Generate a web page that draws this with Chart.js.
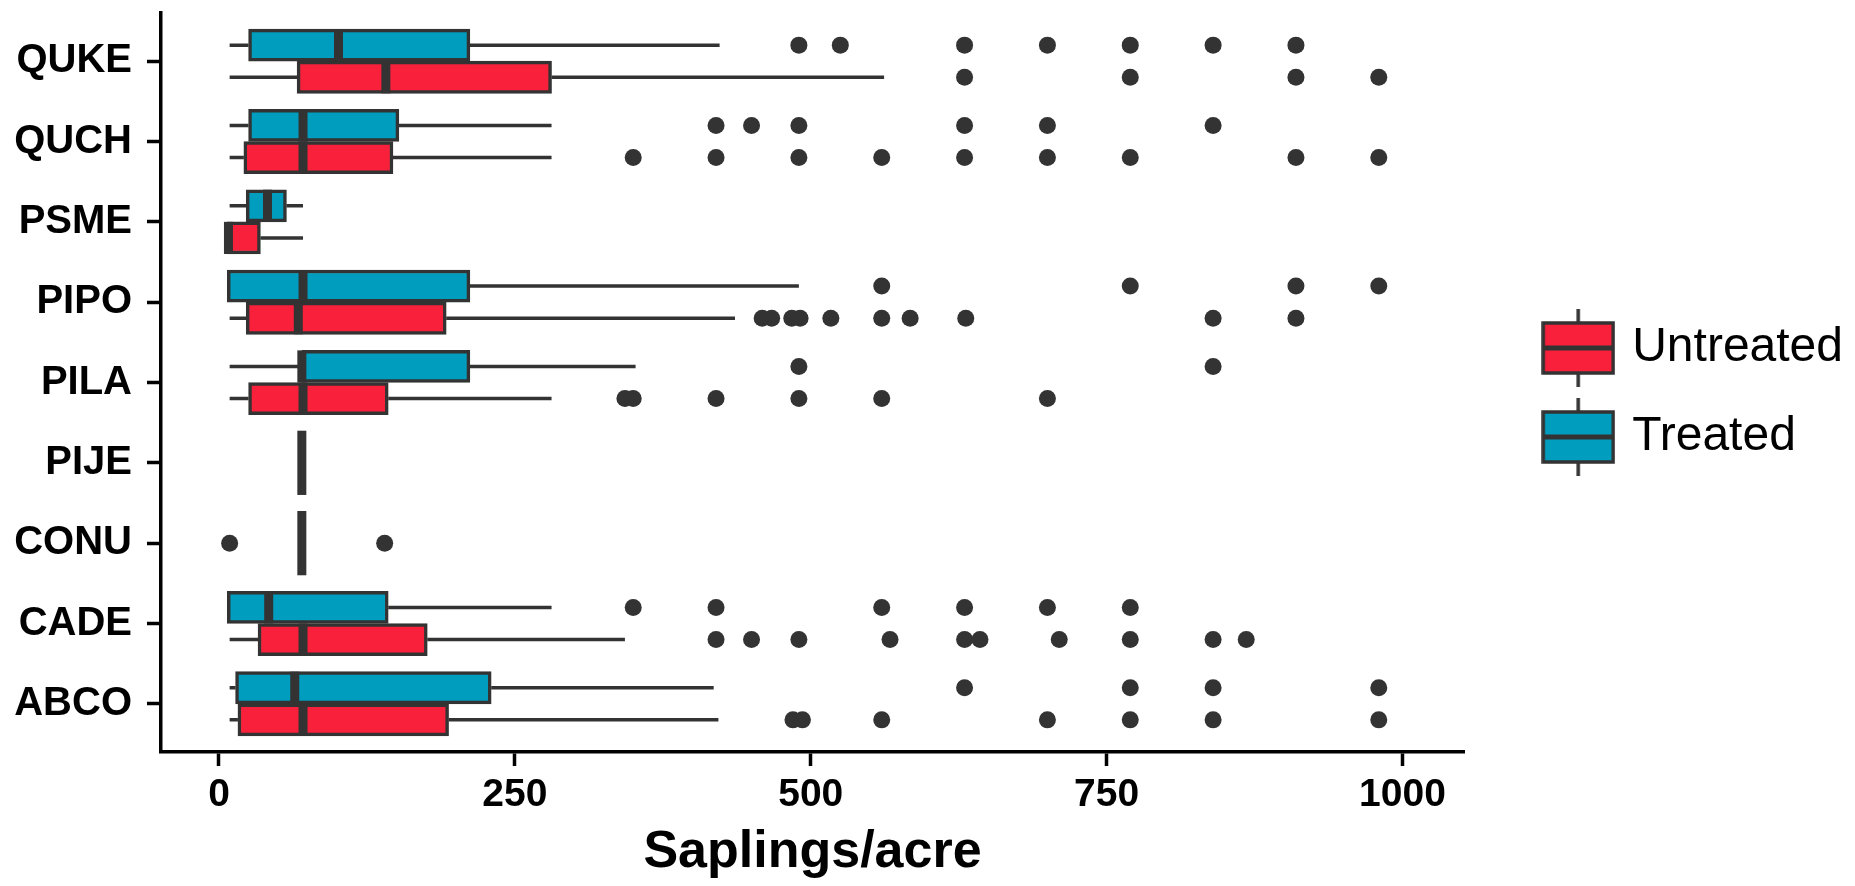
<!DOCTYPE html>
<html>
<head>
<meta charset="utf-8">
<style>
  html, body { margin: 0; padding: 0; background: #ffffff; }
  #wrap { position: relative; width: 1855px; height: 886px; }
  canvas { display: block; }
</style>
<script src="https://cdn.jsdelivr.net/npm/chart.js@4.4.1/dist/chart.umd.min.js"></script>
</head>
<body>
<div id="wrap"><canvas id="chart" width="1855" height="886"></canvas></div>
<script>
// ---------------- DATA ----------------
const categories = ['QUKE', 'QUCH', 'PSME', 'PIPO', 'PILA', 'PIJE', 'CONU', 'CADE', 'ABCO'];
const xTicks = [0, 250, 500, 750, 1000];
const seriesNames = ['Untreated', 'Treated'];

// Treated (null = species not present in this group)
const treatedLow     = [9,   9,   9,  7,   9,   null, null, 7,   9];
const treatedQ1      = [25,  25,  23, 7,   70,  null, null, 7,   14];
const treatedMedian  = [101, 71,  41, 71,  70,  null, null, 42,  64];
const treatedQ3      = [212, 152, 57, 212, 212, null, null, 143, 230];
const treatedHigh    = [423, 281, 71, 490, 352, null, null, 281, 418];
const treatedOutliers = [
  [490, 525, 630, 700, 770, 840, 910],
  [420, 450, 490, 630, 700, 840],
  [],
  [560, 770, 910, 980],
  [490, 840],
  [],
  [],
  [350, 420, 560, 630, 700, 770],
  [630, 770, 840, 980]
];

// Untreated
const untreatedLow     = [9,   9,   7,  9,   9,   70, 70, 9,   9];
const untreatedQ1      = [66,  21,  7,  23,  25,  70, 70, 33,  16];
const untreatedMedian  = [141, 71,  8,  67,  71,  70, 70, 71,  71];
const untreatedQ3      = [281, 147, 35, 192, 143, 70, 70, 176, 194];
const untreatedHigh    = [562, 281, 71, 436, 281, 70, 70, 343, 422];
const untreatedOutliers = [
  [630, 770, 910, 980],
  [350, 420, 490, 560, 630, 700, 770, 910, 980],
  [],
  [459, 467, 484, 491, 517, 560, 584, 631, 840, 910],
  [343, 350, 420, 490, 560, 700],
  [],
  [9, 140],
  [420, 450, 490, 567, 630, 643, 710, 770, 840, 868],
  [485, 493, 560, 700, 770, 840, 980]
];

// ---------------- STYLE ----------------
const FONT = "'Liberation Sans', Arial, Helvetica, sans-serif";
const RED = '#F8203B';
const BLUE = '#009DBE';
const LINE = '#333333';
const LEGEND_BOX_WIDTH = 389;   // space reserved on the right for the legend
const LEGEND_SHIFT_Y = 10;

// ---------------- BUILD DATASETS ----------------
const groupOffset = 0.2;
const treatedBoxes = [], untreatedBoxes = [], singleBoxes = [], outlierPoints = [];
categories.forEach((c, i) => {
  const hasT = treatedQ1[i] !== null;
  const hasU = untreatedQ1[i] !== null;
  const both = hasT && hasU;
  if (hasT) {
    const pos = both ? i - groupOffset : i;
    const b = { x: [treatedQ1[i], treatedQ3[i]], y: pos, lo: treatedLow[i], med: treatedMedian[i], hi: treatedHigh[i], color: BLUE };
    (both ? treatedBoxes : singleBoxes).push(b);
    treatedOutliers[i].forEach(v => outlierPoints.push({ x: v, y: pos }));
  }
  if (hasU) {
    const pos = both ? i + groupOffset : i;
    const b = { x: [untreatedQ1[i], untreatedQ3[i]], y: pos, lo: untreatedLow[i], med: untreatedMedian[i], hi: untreatedHigh[i], color: RED };
    (both ? untreatedBoxes : singleBoxes).push(b);
    untreatedOutliers[i].forEach(v => outlierPoints.push({ x: v, y: pos }));
  }
});

// legend glyphs (boxplot keys)
function makeGlyph(fill) {
  const cv = document.createElement('canvas');
  cv.width = 74; cv.height = 78;
  const g = cv.getContext('2d');
  g.strokeStyle = LINE;
  g.lineWidth = 3.5;
  g.beginPath(); g.moveTo(37, 0); g.lineTo(37, 14); g.moveTo(37, 64); g.lineTo(37, 78); g.stroke();
  g.fillStyle = fill;
  g.fillRect(2, 14, 70, 50);
  g.strokeRect(2, 14, 70, 50);
  g.lineWidth = 5;
  g.beginPath(); g.moveTo(2, 39); g.lineTo(72, 39); g.stroke();
  return cv;
}
const glyphs = { Untreated: makeGlyph(RED), Treated: makeGlyph(BLUE) };

// ---------------- PLUGIN: whiskers + medians + legend placement ----------------
function drawBoxParts(chart, part) {
  const ctx = chart.ctx;
  const xs = chart.scales.x;
  chart.data.datasets.forEach((ds, di) => {
    if (ds.type === 'scatter') return;
    const meta = chart.getDatasetMeta(di);
    meta.data.forEach((el, j) => {
      const r = ds.data[j];
      const p = el.getProps(['x', 'base', 'y', 'height'], true);
      const left = Math.min(p.x, p.base), right = Math.max(p.x, p.base);
      ctx.save();
      ctx.strokeStyle = LINE;
      ctx.lineCap = 'butt';
      if (part === 'whisker') {
        ctx.lineWidth = 3.5;
        ctx.beginPath();
        ctx.moveTo(xs.getPixelForValue(r.lo), p.y); ctx.lineTo(left, p.y);
        ctx.moveTo(right, p.y); ctx.lineTo(xs.getPixelForValue(r.hi), p.y);
        ctx.stroke();
      } else {
        const mx = xs.getPixelForValue(r.med);
        ctx.lineWidth = 9;
        ctx.beginPath();
        ctx.moveTo(mx, p.y - p.height / 2); ctx.lineTo(mx, p.y + p.height / 2);
        ctx.stroke();
      }
      ctx.restore();
    });
  });
}
function patchLegend(chart) {
  const lg = chart.legend;
  if (!lg || lg.__patched) return;
  const fit = lg.fit;
  lg.fit = function () {
    fit.call(this);
    this._naturalWidth = this.width;
    this.width = Math.max(this.width, LEGEND_BOX_WIDTH);
  };
  lg.__patched = true;
}
const boxplotPlugin = {
  id: 'boxplotParts',
  afterInit(chart) { patchLegend(chart); },
  beforeLayout(chart) { patchLegend(chart); },
  afterLayout(chart) {
    const lg = chart.legend;
    if (lg && lg._naturalWidth) {
      lg.left = lg.right - lg._naturalWidth;
      lg.top += LEGEND_SHIFT_Y; lg.bottom += LEGEND_SHIFT_Y;
    }
  },
  beforeDatasetsDraw(chart) { drawBoxParts(chart, 'whisker'); },
  afterDatasetsDraw(chart) { drawBoxParts(chart, 'median'); }
};

// ---------------- CHART ----------------
const barCommon = {
  indexAxis: 'y', xAxisID: 'x', yAxisID: 'y', grouped: false,
  borderColor: LINE, borderWidth: 3.5, borderSkipped: false, barPercentage: 1
};

new Chart(document.getElementById('chart'), {
  type: 'bar',
  data: {
    datasets: [
      Object.assign({ label: 'Treated', data: treatedBoxes, backgroundColor: BLUE, categoryPercentage: 1 }, barCommon),
      Object.assign({ label: 'Untreated', data: untreatedBoxes, backgroundColor: RED, categoryPercentage: 1 }, barCommon),
      Object.assign({ label: 'single', data: singleBoxes, backgroundColor: ctx => (ctx.raw ? ctx.raw.color : RED), categoryPercentage: 2 }, barCommon),
      { type: 'scatter', label: 'outliers', data: outlierPoints, xAxisID: 'x', yAxisID: 'y',
        pointRadius: 8.5, pointBackgroundColor: LINE, pointBorderWidth: 0, pointHoverRadius: 8.5, clip: false }
    ]
  },
  options: {
    indexAxis: 'y',
    responsive: false,
    animation: false,
    events: [],
    devicePixelRatio: 1,
    layout: { padding: { top: 13, left: 0, right: 2, bottom: 0 } },
    plugins: {
      tooltip: { enabled: false },
      legend: {
        display: true,
        position: 'right',
        fullSize: false,
        align: 'center',
        labels: {
          usePointStyle: true,
          pointStyleWidth: 60,
          padding: 41,
          color: '#000000',
          font: { family: FONT, size: 48, weight: 'normal' },
          generateLabels: () => seriesNames.map(n => ({
            text: n, pointStyle: glyphs[n], fillStyle: n === 'Untreated' ? RED : BLUE,
            strokeStyle: LINE, lineWidth: 0, hidden: false, fontColor: '#000000',
            datasetIndex: n === 'Untreated' ? 1 : 0
          }))
        }
      }
    },
    scales: {
      x: {
        type: 'linear', position: 'bottom', min: -49, max: 1052, offset: false,
        afterBuildTicks(s) { s.ticks = xTicks.map(v => ({ value: v })); },
        afterFit(s) { s.height = 134; s.paddingLeft = 0; s.paddingRight = 0; },
        ticks: { font: { family: FONT, size: 39, weight: 'bold' }, color: '#000000', padding: 6,
                 autoSkip: false, maxRotation: 0, callback: v => String(v) },
        grid: { display: true, offset: false, drawOnChartArea: false, drawTicks: true, tickLength: 14,
                tickWidth: 3.5, tickColor: '#000000' },
        border: { display: true, color: '#000000', width: 3.5 },
        title: { display: true, text: 'Saplings/acre', color: '#000000',
                 font: { family: FONT, size: 52, weight: 'bold' }, padding: { top: 0, bottom: 2 } }
      },
      y: {
        type: 'linear', position: 'left', min: -0.6, max: 8.6, reverse: true, offset: false,
        afterBuildTicks(s) { s.ticks = categories.map((c, i) => ({ value: i })); },
        afterFit(s) { s.width = 161; s.paddingTop = 0; s.paddingBottom = 0; },
        ticks: { font: { family: FONT, size: 40, weight: 'bold' }, color: '#000000', padding: 15,
                 autoSkip: false, callback: v => categories[v] },
        grid: { display: true, offset: false, drawOnChartArea: false, drawTicks: true, tickLength: 14,
                tickWidth: 3.5, tickColor: '#000000' },
        border: { display: true, color: '#000000', width: 3.5 }
      }
    }
  },
  plugins: [boxplotPlugin]
});
</script>
</body>
</html>
